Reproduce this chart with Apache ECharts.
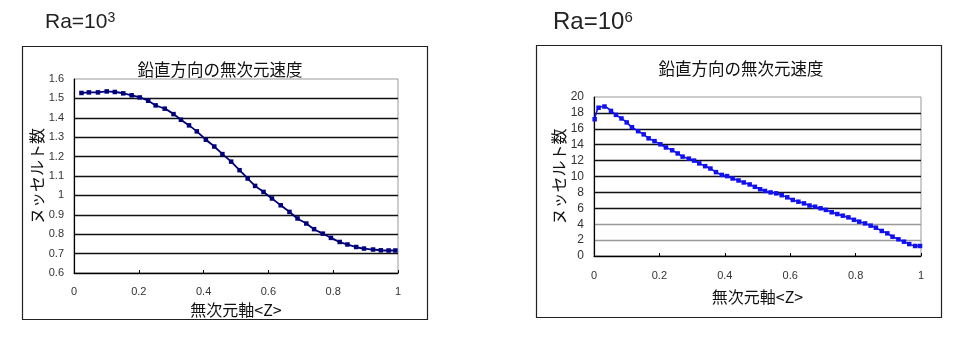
<!DOCTYPE html>
<html>
<head>
<meta charset="utf-8">
<script src="https://cdn.jsdelivr.net/npm/echarts@6/dist/echarts.min.js"></script>
<style>
  html, body { margin: 0; padding: 0; background: #fff; }
  #chart { width: 968px; height: 337px; }
</style>
</head>
<body>
<div id="chart"></div>
<script>
// Vertical dimensionless velocity profiles for two Rayleigh numbers
const chartTitle = '鉛直方向の無次元速度';
const xName = '無次元軸<Z>';
const yName = 'ヌッセルト数';

// Ra = 10^3
const zLow = [0.023, 0.046, 0.074, 0.101, 0.126, 0.152, 0.178, 0.203, 0.229, 0.252,
  0.280, 0.307, 0.330, 0.355, 0.379, 0.407, 0.433, 0.458, 0.485, 0.511,
  0.536, 0.559, 0.585, 0.611, 0.638, 0.665, 0.690, 0.717, 0.741, 0.768,
  0.793, 0.820, 0.844, 0.871, 0.895, 0.923, 0.947, 0.971, 0.992];
const nuLow = [1.528, 1.531, 1.531, 1.536, 1.533, 1.526, 1.516, 1.505, 1.488, 1.464,
  1.447, 1.419, 1.390, 1.361, 1.330, 1.287, 1.252, 1.213, 1.174, 1.130,
  1.087, 1.049, 1.018, 0.984, 0.949, 0.915, 0.881, 0.855, 0.826, 0.803,
  0.781, 0.760, 0.747, 0.734, 0.726, 0.721, 0.717, 0.716, 0.716];

// Ra = 10^6
const zHigh = [0.002, 0.014, 0.032, 0.052, 0.067, 0.084, 0.100, 0.116, 0.135, 0.152,
  0.167, 0.185, 0.203, 0.220, 0.239, 0.256, 0.271, 0.290, 0.306, 0.322,
  0.340, 0.356, 0.373, 0.391, 0.407, 0.424, 0.442, 0.458, 0.476, 0.492,
  0.508, 0.523, 0.540, 0.557, 0.574, 0.591, 0.608, 0.625, 0.642, 0.659,
  0.676, 0.693, 0.709, 0.727, 0.744, 0.761, 0.778, 0.795, 0.811, 0.829,
  0.846, 0.862, 0.880, 0.897, 0.913, 0.931, 0.948, 0.964, 0.982, 0.997];
const nuHigh = [17.2, 18.65, 18.8, 18.25, 17.75, 17.3, 16.8, 16.2, 15.7, 15.3,
  14.8, 14.45, 14.05, 13.65, 13.3, 12.9, 12.5, 12.25, 12.0, 11.65,
  11.3, 11.0, 10.55, 10.2, 10.05, 9.75, 9.5, 9.25, 9.0, 8.7,
  8.4, 8.18, 8.0, 7.88, 7.65, 7.38, 7.05, 6.83, 6.62, 6.35,
  6.2, 6.0, 5.8, 5.5, 5.28, 5.07, 4.86, 4.55, 4.32, 4.1,
  3.82, 3.56, 3.15, 2.85, 2.43, 2.1, 1.8, 1.5, 1.26, 1.26];

const pair = (xs, ys) => xs.map((x, i) => [x, ys[i]]);

const labelFont = 'Liberation Sans, Arial, sans-serif';
const cjkFont = 'Noto Sans CJK JP, sans-serif';

function xAxisFor(gridIndex, nameGap, labelMargin) {
  return {
    type: 'value', gridIndex, min: 0, max: 1, interval: 0.2,
    name: xName, nameLocation: 'middle', nameGap,
    nameTextStyle: { fontFamily: cjkFont, fontSize: 16, color: '#111' },
    axisLine: { show: true, lineStyle: { color: '#000', width: 1.2 } },
    axisTick: { show: true, inside: true, length: 3, lineStyle: { color: '#000' } },
    axisLabel: { margin: labelMargin, fontFamily: labelFont, fontSize: 11, color: '#333',
      formatter: v => String(+v.toFixed(1)) },
    splitLine: { show: false }
  };
}

function yAxisFor(gridIndex, min, max, interval, gridColors, fontSize) {
  return {
    type: 'value', gridIndex, min, max, interval,
    name: yName, nameLocation: 'middle', nameGap: 27, nameRotate: 90,
    nameTextStyle: { fontFamily: cjkFont, fontSize: 16, color: '#111' },
    axisLine: { show: true, lineStyle: { color: '#000', width: 1.2 } },
    axisTick: { show: false },
    axisLabel: { margin: 10, fontFamily: labelFont, fontSize, color: '#333',
      formatter: v => String(+v.toFixed(1)) },
    splitLine: { show: true, showMaxLine: false, lineStyle: { color: gridColors, width: 1.4 } }
  };
}

const chart = echarts.init(document.getElementById('chart'), null, { renderer: 'canvas' });

chart.setOption({
  animation: false,
  backgroundColor: '#fff',
  graphic: [
    { type: 'rect', shape: { x: 22.5, y: 46.5, width: 405, height: 273 },
      style: { fill: 'none', stroke: '#222', lineWidth: 1.2 }, z: 0 },
    { type: 'rect', shape: { x: 536.5, y: 45.5, width: 405, height: 272 },
      style: { fill: 'none', stroke: '#222', lineWidth: 1.2 }, z: 0 }
  ],
  title: [
    { text: 'Ra=10{sup|3}', left: 40, top: 6,
      textStyle: { fontFamily: labelFont, fontSize: 21, fontWeight: 'normal', color: '#222',
        rich: { sup: { fontFamily: labelFont, fontSize: 14, color: '#222', padding: [0, 0, 9, 0] } } } },
    { text: 'Ra=10{sup|6}', left: 548, top: 5,
      textStyle: { fontFamily: labelFont, fontSize: 24, fontWeight: 'normal', color: '#222',
        rich: { sup: { fontFamily: labelFont, fontSize: 15, color: '#222', padding: [0, 0, 10, 0] } } } },
    { text: chartTitle, left: 215, top: 56, textAlign: 'center',
      textStyle: { fontFamily: cjkFont, fontSize: 16.5, fontWeight: 'normal', color: '#111' } },
    { text: chartTitle, left: 736, top: 55, textAlign: 'center',
      textStyle: { fontFamily: cjkFont, fontSize: 16.5, fontWeight: 'normal', color: '#111' } }
  ],
  grid: [
    { left: 74, top: 79, width: 324, height: 194, show: true, borderColor: '#999', borderWidth: 1, backgroundColor: 'transparent' },
    { left: 594, top: 97, width: 327, height: 159, show: true, borderColor: '#999', borderWidth: 1, backgroundColor: 'transparent' }
  ],
  xAxis: [xAxisFor(0, 27, 13), xAxisFor(1, 33, 14)],
  yAxis: [
    yAxisFor(0, 0.6, 1.6, 0.1, '#111', 11),
    yAxisFor(1, 0, 20, 2, ['#111', '#999', '#999', '#111', '#111', '#111', '#111', '#111', '#111', '#111'], 12)
  ],
  series: [
    { type: 'line', xAxisIndex: 0, yAxisIndex: 0, data: pair(zLow, nuLow),
      symbol: 'rect', symbolSize: 4.5, smooth: 0.3,
      lineStyle: { color: '#00007a', width: 1.8 }, itemStyle: { color: '#00007a' } },
    { type: 'line', xAxisIndex: 1, yAxisIndex: 1, data: pair(zHigh, nuHigh),
      symbol: 'rect', symbolSize: 4.5, smooth: 0.3,
      lineStyle: { color: '#1010f0', width: 1.6 }, itemStyle: { color: '#1010f0' } }
  ]
});
</script>
</body>
</html>
